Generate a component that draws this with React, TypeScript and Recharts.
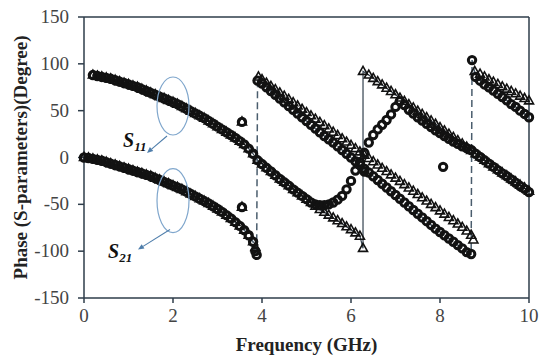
import {
  ComposedChart,
  Line,
  Scatter,
  XAxis,
  YAxis,
  ReferenceLine,
  ReferenceDot,
  Label,
} from "recharts";

type Pt = [number, number];

// S11: simulated and measured coincide up to ~5.1 GHz
const s11Common: Pt[] = [
  [0.2, 88], [0.3, 87], [0.4, 86], [0.5, 85], [0.6, 84], [0.7, 82.5], [0.8, 81], [0.9, 79.5],
  [1.0, 78], [1.1, 76.5], [1.2, 75], [1.3, 73], [1.4, 71], [1.5, 69], [1.6, 67], [1.7, 65],
  [1.8, 63], [1.9, 61], [2.0, 59], [2.1, 57], [2.2, 54.5], [2.3, 52], [2.4, 49.5], [2.5, 47],
  [2.6, 44.5], [2.7, 42], [2.8, 39], [2.9, 36], [3.0, 33], [3.1, 30], [3.2, 27], [3.3, 24],
  [3.4, 21], [3.5, 17.5], [3.6, 14], [3.7, 9.5], [3.8, 4], [3.9, -3], [4.0, -7], [4.1, -11],
  [4.2, -15], [4.3, -19], [4.4, -23], [4.5, -26.5], [4.6, -30], [4.7, -34], [4.8, -37.5],
  [4.9, -41], [5.0, -44.5], [5.1, -48],
];

const s11SimTail: Pt[] = [
  [5.2, -52], [5.3, -55.5], [5.4, -58.5], [5.5, -61.5], [5.6, -64.5], [5.7, -67.5], [5.8, -70.5],
  [5.9, -74], [6.0, -77], [6.1, -80.5], [6.2, -84], [6.27, -97], [6.27, 92], [6.4, 88],
  [6.5, 84.5], [6.6, 81], [6.7, 77.5], [6.8, 74], [6.9, 70.5], [7.0, 67], [7.1, 63.5], [7.2, 60],
  [7.3, 56.5], [7.4, 53], [7.5, 49.5], [7.6, 46], [7.7, 42.5], [7.8, 39], [7.9, 35.5], [8.0, 32],
  [8.1, 28.5], [8.2, 25], [8.3, 21.5], [8.4, 18], [8.5, 14.5], [8.6, 11], [8.7, 7.5], [8.8, 4],
  [8.9, 0.5], [9.0, -3], [9.1, -6.5], [9.2, -10], [9.3, -13], [9.4, -16.5], [9.5, -19.5],
  [9.6, -23], [9.7, -26], [9.8, -29.5], [9.9, -32.5], [10.0, -36],
];

const s11MeasTail: Pt[] = [
  [5.2, -50], [5.3, -51], [5.4, -51], [5.5, -50], [5.6, -48], [5.7, -45], [5.8, -41], [5.9, -34],
  [6.0, -25], [6.1, -14], [6.2, -5], [6.3, 5], [6.4, 16], [6.5, 24], [6.6, 30], [6.7, 35],
  [6.8, 40], [6.9, 46], [7.0, 54], [7.1, 60], [7.2, 56], [7.3, 51], [7.4, 47], [7.5, 43],
  [7.6, 39.5], [7.7, 36], [7.8, 32.5], [7.9, 29], [8.0, 26], [8.1, 23], [8.2, 20], [8.3, 17],
  [8.4, 14.5], [8.5, 12], [8.6, 10], [8.7, 8], [8.8, 4], [8.9, 0.5], [9.0, -3], [9.1, -6.5],
  [9.2, -10], [9.3, -13.5], [9.4, -17], [9.5, -20], [9.6, -23.5], [9.7, -27], [9.8, -30.5],
  [9.9, -33.5], [10.0, -37],
];

// S21: simulated and measured coincide up to ~3.8 GHz
const s21Common: Pt[] = [
  [0, 0], [0.1, -0.5], [0.2, -1.5], [0.3, -2.5], [0.4, -3.5], [0.5, -5], [0.6, -6.5], [0.7, -8],
  [0.8, -9.5], [0.9, -11], [1.0, -12.5], [1.1, -14], [1.2, -15.5], [1.3, -17], [1.4, -18.5],
  [1.5, -20], [1.6, -22], [1.7, -24], [1.8, -26], [1.9, -28], [2.0, -30], [2.1, -32], [2.2, -34],
  [2.3, -36.5], [2.4, -39], [2.5, -41.5], [2.6, -44], [2.7, -46.5], [2.8, -49], [2.9, -52],
  [3.0, -55], [3.1, -58], [3.2, -61.5], [3.3, -65], [3.4, -69], [3.5, -73], [3.6, -77.5],
  [3.7, -83], [3.8, -90],
];

const s21SimTail: Pt[] = [
  [3.85, -96], [3.92, 86], [4.0, 83], [4.1, 79.5], [4.2, 76], [4.3, 72.5], [4.4, 69], [4.5, 65.5],
  [4.6, 62], [4.7, 58.5], [4.8, 55], [4.9, 51.5], [5.0, 48], [5.1, 44.5], [5.2, 41], [5.3, 37.5],
  [5.4, 34], [5.5, 30.5], [5.6, 27], [5.7, 23.5], [5.8, 20], [5.9, 16.5], [6.0, 13], [6.1, 9.5],
  [6.2, 6], [6.3, 2.5], [6.4, -1], [6.5, -4.5], [6.6, -8], [6.7, -11.5], [6.8, -15], [6.9, -18.5],
  [7.0, -22], [7.1, -25.5], [7.2, -29], [7.3, -32.5], [7.4, -36], [7.5, -39.5], [7.6, -43],
  [7.7, -46.5], [7.8, -50], [7.9, -53.5], [8.0, -57], [8.1, -60.5], [8.2, -64], [8.3, -67.5],
  [8.4, -71], [8.5, -74.5], [8.6, -78.5], [8.7, -83], [8.75, -88], [8.78, 92], [8.9, 89],
  [9.0, 86], [9.1, 83], [9.2, 80.5], [9.3, 78], [9.4, 75.5], [9.5, 73], [9.6, 70.5], [9.7, 68],
  [9.8, 65.5], [9.9, 63], [10.0, 60.5],
];

const s21MeasTail: Pt[] = [
  [3.85, -100], [3.88, -104], [3.9, 82], [4.0, 79], [4.1, 75], [4.2, 71], [4.3, 67], [4.4, 63],
  [4.5, 59], [4.6, 55], [4.7, 51], [4.8, 47], [4.9, 43], [5.0, 39], [5.1, 35], [5.2, 31],
  [5.3, 27], [5.4, 23], [5.5, 19.5], [5.6, 16], [5.7, 12], [5.8, 8], [5.9, 4], [6.0, 0],
  [6.1, -4], [6.2, -8], [6.3, -12], [6.4, -16], [6.5, -20], [6.6, -24], [6.7, -28], [6.8, -32],
  [6.9, -36], [7.0, -40], [7.1, -44], [7.2, -48], [7.3, -52], [7.4, -56], [7.5, -60], [7.6, -64],
  [7.7, -68], [7.8, -72], [7.9, -76], [8.0, -79.5], [8.1, -83], [8.2, -86.5], [8.3, -90],
  [8.4, -93.5], [8.5, -97], [8.6, -101], [8.7, -103], [8.72, 104], [8.8, 86], [8.9, 82],
  [9.0, 78], [9.1, 75], [9.2, 71.5], [9.3, 68], [9.4, 64.5], [9.5, 61], [9.6, 57], [9.7, 54],
  [9.8, 50], [9.9, 46.5], [10.0, 43],
];

// stray measured points
const strayS11: Pt[] = [[3.55, 38], [6.3, -15], [8.07, -10]];
const strayS21: Pt[] = [[3.55, -53]];

const yTicks = [-150, -100, -50, 0, 50, 100, 150];
const xTicks = [0, 2, 4, 6, 8, 10];

const toRows = (pts: Pt[]) => pts.map(([f, v]) => ({ f, v }));

const s11Sim = toRows([...s11Common, ...s11SimTail]);
const s11Meas = toRows([...s11Common, ...s11MeasTail]);
const s21Sim = toRows([...s21Common, ...s21SimTail]);
const s21Meas = toRows([...s21Common, ...s21MeasTail]);
const stray11 = toRows(strayS11);
const stray21 = toRows(strayS21);

const INK = "#121212";
const AXIS = "#2e3d4a";
const SERIF = "Liberation Serif";

const Tri = (p: any) =>
  p.cx == null ? <g /> : (
    <path
      d={`M${p.cx},${p.cy - 5}L${p.cx + 4.5},${p.cy + 3}L${p.cx - 4.5},${p.cy + 3}Z`}
      fill="none"
      stroke={INK}
      strokeWidth={1.6}
    />
  );

const Circ = (p: any) =>
  p.cx == null ? <g /> : (
    <circle cx={p.cx} cy={p.cy} r={3.7} fill="none" stroke={INK} strokeWidth={3} />
  );

const XTick = (p: any) => (
  <text
    x={p.x}
    y={p.y + 17}
    textAnchor="middle"
    style={{ fontFamily: SERIF, fontSize: 19, fill: "#444" }}
  >
    {p.payload.value}
  </text>
);

const YTick = (p: any) => (
  <text
    x={p.x}
    y={p.y + 6}
    textAnchor="end"
    style={{ fontFamily: SERIF, fontSize: 19, fill: "#444" }}
  >
    {p.payload.value}
  </text>
);

function Loop(props: any) {
  const { cx, cy, ry, a, t, sub } = props;
  const [x1, y1, x2, y2] = a;
  const ang = Math.atan2(y2 - y1, x2 - x1);
  const hx = cx + x2;
  const hy = cy + y2;
  const l = 6;
  const w = 2.6;
  const bx = hx - l * Math.cos(ang);
  const by = hy - l * Math.sin(ang);
  const head = `M${hx},${hy}L${bx + w * Math.sin(ang)},${by - w * Math.cos(ang)}L${bx - w * Math.sin(ang)},${by + w * Math.cos(ang)}Z`;
  return (
    <g>
      <ellipse cx={cx} cy={cy} rx={16} ry={ry} fill="none" stroke="#7fa6cc" strokeWidth={1.2} />
      <line x1={cx + x1} y1={cy + y1} x2={bx} y2={by} stroke="#4f7eab" strokeWidth={1.1} />
      <path d={head} fill="#4f7eab" />
      <text
        x={cx + t[0]}
        y={cy + t[1]}
        style={{ fontFamily: SERIF, fontStyle: "italic", fontWeight: "bold", fontSize: 20, fill: "#111" }}
      >
        S
        <tspan style={{ fontSize: 13 }} dy={4}>
          {sub}
        </tspan>
      </text>
    </g>
  );
}

const css = `.recharts-wrapper text, .recharts-wrapper tspan { font-family: 'Liberation Serif', serif !important; }`;

export default function App() {
  return (
    <div
      style={{
        position: "absolute",
        left: 0,
        top: 0,
        width: 540,
        height: 358,
        background: "#fff",
        fontFamily: SERIF,
      }}
    >
      <style>{css}</style>
      <ComposedChart width={540} height={358} margin={{ top: 17, right: 11, bottom: 0, left: 0 }}>
        <XAxis
          type="number"
          dataKey="f"
          domain={[0, 10]}
          ticks={xTicks}
          height={60}
          tickSize={5}
          stroke={AXIS}
          strokeWidth={1.5}
          tick={XTick}
        >
          <Label
            value="Frequency (GHz)"
            position="insideBottom"
            offset={7}
            style={{ fontFamily: SERIF, fontSize: 19, fontWeight: "bold", fill: "#222" }}
          />
        </XAxis>
        <YAxis
          type="number"
          dataKey="v"
          domain={[-150, 150]}
          ticks={yTicks}
          width={84}
          tickSize={6}
          tickMargin={9}
          stroke={AXIS}
          strokeWidth={1.5}
          tick={YTick}
        >
          <Label
            value="Phase (S-parameters)(Degree)"
            angle={-90}
            position="insideLeft"
            offset={20}
            style={{ textAnchor: "middle", fontFamily: SERIF, fontSize: 19, fontWeight: "bold", fill: "#222" }}
          />
        </YAxis>
        <ReferenceLine y={150} stroke={AXIS} strokeWidth={1.5} />
        <ReferenceLine x={10} stroke={AXIS} strokeWidth={1.5} />

        <Line
          data={s11Sim}
          dataKey="v"
          stroke="#33424f"
          strokeWidth={1.2}
          dot={false}
          isAnimationActive={false}
        />
        <Line
          data={s21Meas}
          dataKey="v"
          stroke="#4a5d6d"
          strokeWidth={1.5}
          strokeDasharray="7 4"
          dot={false}
          isAnimationActive={false}
        />

        <Scatter data={s11Sim} dataKey="v" shape={Tri} isAnimationActive={false} />
        <Scatter data={s21Sim} dataKey="v" shape={Tri} isAnimationActive={false} />
        <Scatter data={s11Meas} dataKey="v" shape={Circ} isAnimationActive={false} />
        <Scatter data={s21Meas} dataKey="v" shape={Circ} isAnimationActive={false} />
        <Scatter data={stray11} dataKey="v" shape={Circ} isAnimationActive={false} />
        <Scatter data={stray21} dataKey="v" shape={Circ} isAnimationActive={false} />
        <Scatter data={stray11.slice(0, 1)} dataKey="v" shape={Tri} isAnimationActive={false} />
        <Scatter data={stray21} dataKey="v" shape={Tri} isAnimationActive={false} />

        <ReferenceDot
          x={2}
          y={55}
          shape={(p: any) => (
            <Loop cx={p.cx} cy={p.cy} ry={29} a={[-6, 30, -26, 47]} t={[-50, 41]} sub="11" />
          )}
        />
        <ReferenceDot
          x={2}
          y={-46}
          shape={(p: any) => (
            <Loop cx={p.cx} cy={p.cy} ry={32} a={[-3, 29, -35, 49]} t={[-65, 57]} sub="21" />
          )}
        />
      </ComposedChart>
    </div>
  );
}
